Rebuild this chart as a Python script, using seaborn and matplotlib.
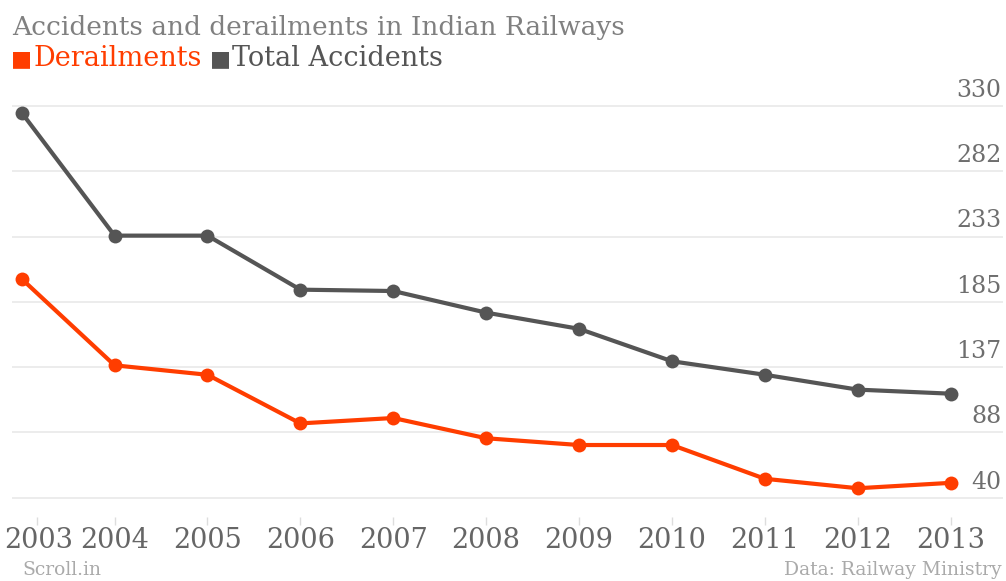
import matplotlib
matplotlib.use("Agg")
import matplotlib.pyplot as plt
from matplotlib.transforms import blended_transform_factory, ScaledTranslation
import pandas as pd
import seaborn as sns

# Data
years = [2003, 2004, 2005, 2006, 2007, 2008, 2009, 2010, 2011, 2012, 2013]
derailments = [202, 138, 131, 95, 99, 84, 79, 79, 54, 47, 51]
total_accidents = [325, 234, 234, 194, 193, 177, 165, 141, 131, 120, 117]
series_names = ["Derailments", "Total Accidents"]
y_ticks = [40, 88.33, 136.67, 185, 233.33, 281.67, 330]
y_tick_labels = ["40", "88", "137", "185", "233", "282", "330"]
title = "Accidents and derailments in Indian Railways"
source_left = "Scroll.in"
source_right = "Data: Railway Ministry"

palette = {"Derailments": "#ff3d00", "Total Accidents": "#555555"}

sns.set_theme(style="white")
plt.rcParams["font.family"] = ["DejaVu Serif"]

df = pd.DataFrame({
    "year": years * 2,
    "value": derailments + total_accidents,
    "series": [series_names[0]] * len(years) + [series_names[1]] * len(years),
})

W, H = 1006, 581
fig = plt.figure(figsize=(W / 100, H / 100), dpi=100)
ax = fig.add_axes([12 / W, 1 - 500 / H, (1003 - 12) / W, (500 - 90) / H])

sns.lineplot(
    data=df, x="year", y="value", hue="series", hue_order=series_names,
    palette=palette, marker="o", markersize=10, markeredgewidth=0,
    linewidth=3, legend=False, ax=ax,
)

ax.set_xlim(2002.896, 2013.563)
ax.set_ylim(38.3, 341.8)
ax.set_xlabel("")
ax.set_ylabel("")

for s in ax.spines.values():
    s.set_visible(False)
ax.spines["bottom"].set_position(("outward", 12))

# Horizontal grid with labels sitting above the lines on the right
ax.set_yticks(y_ticks)
ax.set_yticklabels([])
ax.tick_params(axis="y", length=0)
ax.yaxis.grid(True, color="#ebebeb", linewidth=1.3)
ax.set_axisbelow(True)
trans = blended_transform_factory(ax.transAxes, ax.transData)
for v, lab in zip(y_ticks, y_tick_labels):
    ax.annotate(lab, xy=(0.9985, v), xycoords=trans, xytext=(0, 3),
                textcoords="offset points", ha="right", va="bottom",
                fontsize=17, color="#6e6e6e")

ax.set_xticks(years)
ax.set_xticklabels([str(y) for y in years], fontsize=19.5, color="#666666")
ax.tick_params(axis="x", direction="out", length=6, width=1,
               color="#dddddd", pad=1.5, bottom=True)
# keep the first year label (and its tick) inside the figure
shift = ScaledTranslation(15 / 100, 0, fig.dpi_scale_trans)
first = ax.get_xticklabels()[0]
first.set_transform(first.get_transform() +
                    ScaledTranslation(17 / 100, 0, fig.dpi_scale_trans))
first_tick = ax.xaxis.get_major_ticks()[0].tick1line
first_tick.set_transform(first_tick.get_transform() + shift)

# Title and legend line
fig.text(12 / W, 1 - 28 / H, title, fontsize=19, color="#808080",
         ha="left", va="center")
t1 = fig.text(11 / W, 1 - 59 / H, "\u25a0", fontsize=16,
              color=palette["Derailments"], ha="left", va="center")
t2 = ax.annotate("Derailments", xy=(1, 0.5), xycoords=t1, xytext=(1, 0),
                 textcoords="offset points", fontsize=19.5,
                 color=palette["Derailments"], ha="left", va="center")
t3 = ax.annotate("\u25a0", xy=(1, 0.5), xycoords=t2, xytext=(6, 0),
                 textcoords="offset points", fontsize=16,
                 color=palette["Total Accidents"], ha="left", va="center")
ax.annotate("Total Accidents", xy=(1, 0.5), xycoords=t3, xytext=(1, 0),
            textcoords="offset points", fontsize=19.5,
            color=palette["Total Accidents"], ha="left", va="center")

# Footer
fig.text(22 / W, 1 - 570 / H, source_left, fontsize=13.5, color="#aaaaaa",
         ha="left", va="center")
fig.text(1002 / W, 1 - 570 / H, source_right, fontsize=13.5, color="#aaaaaa",
         ha="right", va="center")

fig.savefig("out.png", dpi=100, facecolor="white")
